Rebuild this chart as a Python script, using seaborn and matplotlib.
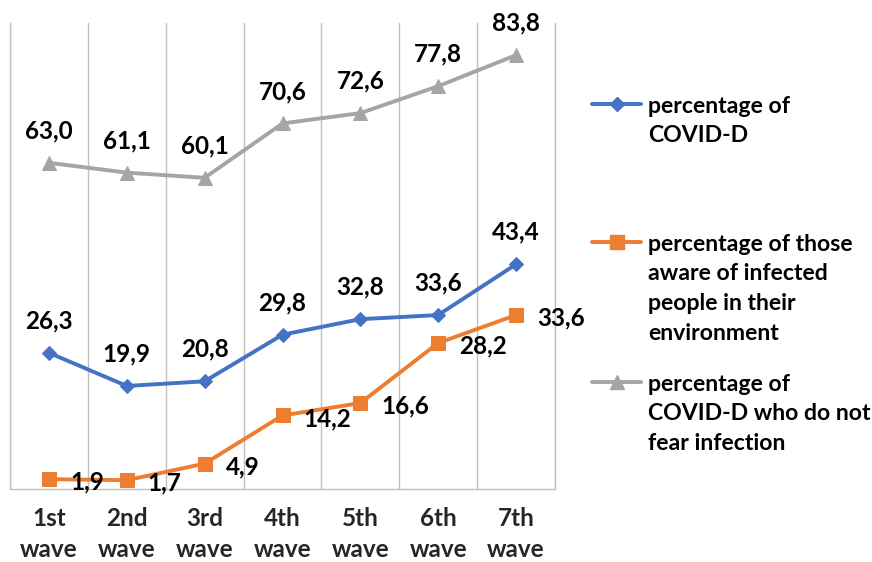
import matplotlib
matplotlib.use("Agg")
import matplotlib.pyplot as plt
from matplotlib.lines import Line2D
import seaborn as sns
import numpy as np

waves = ["1st\nwave", "2nd\nwave", "3rd\nwave", "4th\nwave", "5th\nwave", "6th\nwave", "7th\nwave"]
covid_d = [26.3, 19.9, 20.8, 29.8, 32.8, 33.6, 43.4]
aware_infected = [1.9, 1.7, 4.9, 14.2, 16.6, 28.2, 33.6]
no_fear = [63.0, 61.1, 60.1, 70.6, 72.6, 77.8, 83.8]

series_names = [
    "percentage of\nCOVID-D",
    "percentage of those\naware of infected\npeople in their\nenvironment",
    "percentage of\nCOVID-D who do not\nfear infection",
]

sns.set_theme(style="white")
plt.rcParams["font.family"] = ["Lato", "DejaVu Sans"]
plt.rcParams["font.weight"] = "bold"

BLUE = "#4472C4"
ORANGE = "#ED7D31"
GRAY = "#A5A5A5"
GRID = "#C0C0C0"
FS = 17.5
FS_LEG = 16.6
FW = "bold"

fig = plt.figure(figsize=(8.72, 5.62), dpi=100)
ax = fig.add_axes([10 / 872, 1 - 489 / 562, 545 / 872, 466 / 562])

x = np.arange(len(waves))
styles = [
    (covid_d, BLUE, "D", 7.5),
    (aware_infected, ORANGE, "s", 9.5),
    (no_fear, GRAY, "^", 10.5),
]
for vals, col, mk, ms in styles:
    sns.lineplot(x=x, y=vals, ax=ax, color=col, marker=mk, markersize=ms,
                 markeredgecolor=col, linewidth=2.8, legend=False)


def fmt(v):
    return f"{v:.1f}".replace(".", ",")


# value labels
for vals in (covid_d, no_fear):
    for xi, v in zip(x, vals):
        ax.annotate(fmt(v), (xi, v), xytext=(0, 32), textcoords="offset pixels",
                    ha="center", va="center", fontsize=FS, fontweight=FW,
                    color="black")
for xi, v in zip(x, aware_infected):
    ax.annotate(fmt(v), (xi, v), xytext=(21, -3), textcoords="offset pixels",
                ha="left", va="center", fontsize=FS, fontweight=FW,
                color="black")

ax.set_xlim(-0.5, len(waves) - 0.5)
ax.set_ylim(0, 90)
ax.set_yticks([])
ax.set_xticks(x)
ax.set_xticklabels(waves, fontsize=FS, fontweight=FW, linespacing=1.4)
ax.set_xticks(np.arange(-0.5, len(waves)), minor=True)
ax.tick_params(axis="x", which="major", length=0, pad=13)
ax.tick_params(axis="x", which="minor", length=7, width=1, color=GRID, direction="out")
ax.grid(False)
ax.grid(True, axis="x", which="minor", color=GRID, linewidth=1)
ax.spines["top"].set_visible(False)
for s in ["bottom", "left", "right"]:
    ax.spines[s].set_color(GRID)
    ax.spines[s].set_linewidth(1)
    ax.spines[s].set_zorder(0)
ax.set_xlabel("")
ax.set_ylabel("")

# legend drawn at the right of the plot
legend_rows = [(104, BLUE, "D", 7.5), (242, ORANGE, "s", 9.5), (382, GRAY, "^", 10.5)]
for (yc, col, mk, ms), name in zip(legend_rows, series_names):
    yf = 1 - yc / 562
    fig.add_artist(Line2D([592 / 872, 641 / 872], [yf, yf], color=col, linewidth=2.8,
                          transform=fig.transFigure))
    fig.add_artist(Line2D([616.5 / 872], [yf], color=col, marker=mk, markersize=ms,
                          transform=fig.transFigure))
    fig.text(648 / 872, 1 - (yc - 8) / 562, name, ha="left", va="top",
             fontsize=FS_LEG, fontweight=FW, color="black", linespacing=1.5)

fig.savefig("out.png", dpi=100)
